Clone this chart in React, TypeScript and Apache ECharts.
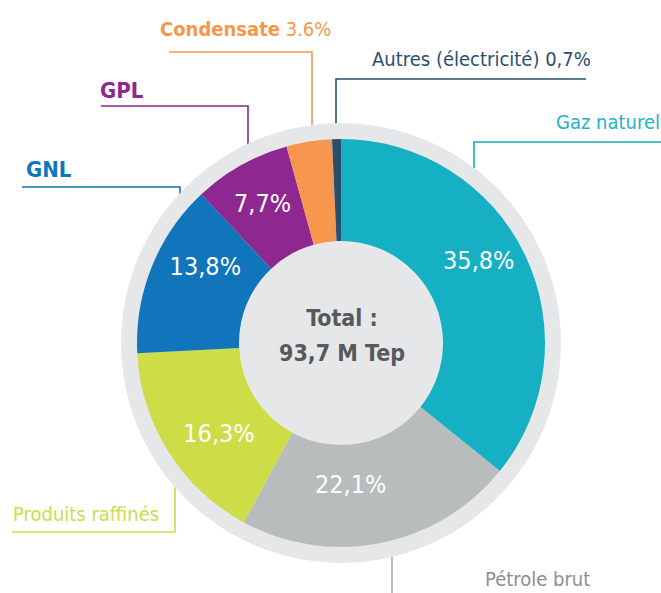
import React, { useEffect, useRef } from "react";
import * as echarts from "echarts";

const categories = [
  "Gaz naturel",
  "Pétrole brut",
  "Produits raffinés",
  "GNL",
  "GPL",
  "Condensate",
  "Autres (électricité)",
];
const shares = [35.8, 22.1, 16.3, 13.8, 7.7, 3.6, 0.7];
const outerLabels = [
  "Gaz naturel",
  "Pétrole brut",
  "Produits raffinés",
  "{h|GNL}",
  "{h|GPL}",
  "{b|Condensate} 3.6%",
  "Autres (électricité) 0,7%",
];
const totalLines = ["Total :", "93,7 M Tep"];

const sliceColors = ["#15b0c3", "#b9bcbd", "#cddd47", "#1175bb", "#8e278f", "#f6974d", "#27506f"];
const textColors = ["#22b3c6", "#8d8f91", "#cddd47", "#1175bb", "#8e278f", "#f6974d", "#2b4f6e"];
const lineColors = ["#15b0c3", "#a7a9ac", "#cddd47", "#1175bb", "#8e278f", "#f6974d", "#27506f"];

// layout (pixels)
const CX = 341;
const CY = 343;
const R_IN = 102;
const R_OUT = 204;
const R_RING = 220;
// leader lines: x of vertical segment, y of the elbow, x of the horizontal end
const leaderX = [474, 392, 175, 180, 248, 312, 336];
const leaderY = [142, 600, 532, 187, 106, 52, 79];
const leaderEnd = [661, 392, 12, 22, 101, 169, 586];
// label anchor
const labelX = [660, 485, 13, 26, 100, 160, 372];
const labelY = [122, 579, 514, 169, 90, 29, 59];
const labelAlign = ["right", "left", "left", "left", "left", "left", "left"];
// inner label fine shifts
const innerShiftX = [-3, -21, 10, 9, -2, 0, 0];
const innerShiftY = [-15, -11, 7, -18, -4, 0, 0];

const FONT = "'DejaVu Sans Condensed', 'Liberation Sans Narrow', sans-serif";

export default function App() {
  const ref = useRef<HTMLDivElement>(null);
  useEffect(() => {
    if (!ref.current) return;
    const chart = echarts.init(ref.current, undefined, { renderer: "svg" });

    const edgeY = (x: number, below: boolean) => {
      const dx = x - CX;
      const h = Math.sqrt(Math.max(0, R_OUT * R_OUT - dx * dx));
      return below ? CY + h : CY - h;
    };

    const outerData = categories.map((name, i) => ({
      name,
      value: shares[i],
      itemStyle: { color: sliceColors[i] },
      label: {
        formatter: outerLabels[i],
        color: textColors[i],
      },
      labelLine: { lineStyle: { color: lineColors[i], width: 1.6 } },
    }));

    const innerData = categories.map((name, i) => ({
      name,
      value: shares[i],
      label: { show: shares[i] >= 5 },
    }));

    chart.setOption({
      animation: false,
      backgroundColor: "#ffffff",
      graphic: [
        {
          type: "text",
          x: CX + 1,
          y: CY - 8,
          z: 100,
          style: {
            text: totalLines.join("\n"),
            fill: "#58595b",
            font: `bold 23px ${FONT}`,
            lineHeight: 35,
            align: "center",
            verticalAlign: "middle",
          },
        },
      ],
      series: [
        {
          type: "pie",
          silent: true,
          center: [CX, CY],
          radius: [0, R_RING],
          label: { show: false },
          labelLine: { show: false },
          itemStyle: { color: "#e6e7e8" },
          emphasis: { disabled: true },
          data: [{ name: "fond", value: 1 }],
        },
        {
          type: "pie",
          silent: true,
          center: [CX, CY],
          radius: [R_IN, R_OUT],
          startAngle: 90,
          clockwise: true,
          emphasis: { disabled: true },
          label: {
            show: true,
            position: "outside",
            fontFamily: FONT,
            fontSize: 20,
            width: 400,
            overflow: "none",
            rich: {
              b: { fontFamily: FONT, fontSize: 20, fontWeight: "bold" },
              h: { fontFamily: FONT, fontSize: 22, fontWeight: "bold" },
            },
          },
          labelLine: { show: true, lineStyle: { width: 1.6 } },
          labelLayout: (p: any) => {
            const i = p.dataIndex;
            const lx = leaderX[i];
            const below = i === 1 || i === 2;
            const pts = [[lx, edgeY(lx, below)], [lx, leaderY[i]], [leaderEnd[i], leaderY[i]]];
            return {
              x: labelX[i],
              y: labelY[i],
              align: labelAlign[i],
              verticalAlign: "middle",
              labelLinePoints: pts,
            };
          },
          data: outerData,
        },
        {
          type: "pie",
          silent: true,
          center: [CX, CY],
          radius: [R_IN, R_OUT],
          startAngle: 90,
          clockwise: true,
          emphasis: { disabled: true },
          itemStyle: { color: "rgba(0,0,0,0)" },
          label: {
            show: true,
            position: "inside",
            color: "#ffffff",
            fontFamily: FONT,
            fontSize: 25,
            formatter: (p: any) => p.value.toFixed(1).replace(".", ",") + "%",
          },
          labelLine: { show: false },
          labelLayout: (p: any) => ({ dx: innerShiftX[p.dataIndex], dy: innerShiftY[p.dataIndex] }),
          data: innerData,
        },
      ],
    });
    return () => chart.dispose();
  }, []);
  return (
    <div
      ref={ref}
      style={{ position: "fixed", left: 0, top: 0, width: 661, height: 593 }}
    />
  );
}
